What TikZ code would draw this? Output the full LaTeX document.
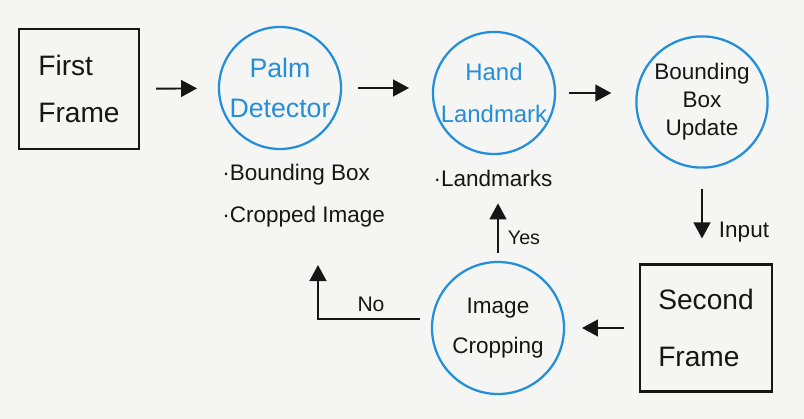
\documentclass[tikz,border=0pt]{standalone}
\usepackage{fontspec}
\setmainfont{Liberation Sans}
\usetikzlibrary{arrows.meta,positioning}
\definecolor{paper}{RGB}{245,245,244}
\definecolor{sky}{RGB}{35,142,218}
\definecolor{ink}{RGB}{22,22,22}
\tikzset{
  >={Triangle[length=4mm,width=4.2mm]},
  frame box/.style={draw=ink,line width=1.6pt,text=ink,align=left,
    minimum width=#1,minimum height=30mm,inner sep=0pt},
  frame box/.default=30mm,
  stage/.style={circle,draw=sky,line width=1.6pt,text=#1,align=center,
    minimum size=31mm,inner sep=0pt},
  stage/.default=sky,
  flow/.style={->,line width=1.4pt,draw=ink},
  note/.style={text=ink,align=left,inner sep=0pt,font=\fontsize{16}{30}\selectfont},
}

\begin{document}
\begin{tikzpicture}[x=0.025cm,y=-0.025cm]
  \fill[paper] (0,0) rectangle (804,419);
  % top row
  \node[frame box,font=\fontsize{20}{34}\selectfont] (first) at (79,89) {First\\Frame};
  \node[stage,minimum size=30.5mm,font=\fontsize{19}{29}\selectfont] (palm) at (280,88) {Palm\\Detector};
  \node[stage,minimum size=30.5mm,font=\fontsize{17}{30}\selectfont] (hand) at (494,93) {Hand\\Landmark};
  \node[stage=ink,minimum size=32.8mm,font=\fontsize{16}{20}\selectfont] (bbu) at (702,102) {Bounding\\Box\\Update};
  % outputs
  \node[note,anchor=west] (plab) at (222,196) {·Bounding Box\\·Cropped Image};
  \node[note] (lmk) at (493,178) {·Landmarks};
  % bottom row
  \node[frame box=33mm,minimum height=31.8mm,font=\fontsize{20}{40}\selectfont] (second) at (706,328) {Second\\Frame};
  \node[stage=ink,minimum size=33mm,font=\fontsize{16}{28}\selectfont] (crop) at (498,328) {Image\\Cropping};
  \coordinate (back) at (318,265);

  \draw[flow,shorten <=4mm,shorten >=5.2mm] (first) -- (palm);
  \draw[flow,shorten <=4mm,shorten >=5.7mm] (palm.east) -- (palm.east -| hand.west);
  \draw[flow,shorten <=3.3mm,shorten >=6mm] (hand.east) -- (hand.east -| bbu.west);
  \draw[flow,shorten <=5mm,shorten >=6.2mm] (bbu.south) -- (bbu.south |- second.north);
  \node[note] (inlbl) at (744,232) {Input};
  \draw[flow,shorten <=3.8mm,shorten >=4.2mm] (second) -- (crop);
  \draw[flow,shorten <=2mm,shorten >=4.2mm] (crop.north) -- (crop.north |- lmk.south);
  \node[note,font=\fontsize{14}{16}\selectfont] (yes) at (524,238) {Yes};
  \draw[flow,shorten <=3mm] (crop.172) -| (back);
  \node[note,font=\fontsize{15}{16}\selectfont] (no) at (371,304) {No};
\end{tikzpicture}
\end{document}
